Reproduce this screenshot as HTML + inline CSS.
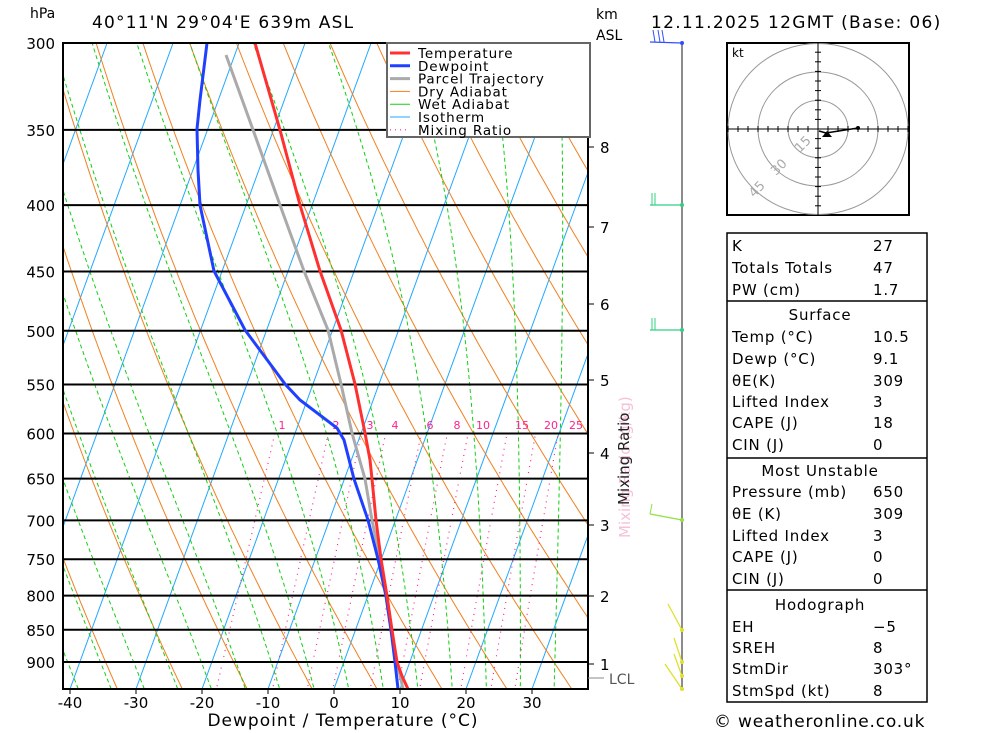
<!DOCTYPE html>
<html><head><meta charset="utf-8"><style>
body{margin:0;background:#fff;width:1000px;height:733px;overflow:hidden;font-family:"DejaVu Sans","Liberation Sans",sans-serif}
svg{display:block}
</style></head><body>
<svg id="s" width="1000" height="733" xmlns="http://www.w3.org/2000/svg" font-family="DejaVu Sans, Liberation Sans, sans-serif">
<defs><clipPath id="c"><rect x="63" y="43" width="525" height="646"/></clipPath></defs>
<g id="bg" clip-path="url(#c)"></g>
<g id="fg"></g>
</svg>
<script>
var NS="http://www.w3.org/2000/svg";
function el(t,a,p,txt){var e=document.createElementNS(NS,t);for(var k in a)e.setAttribute(k,a[k]);if(txt!==undefined)e.textContent=txt;(p||document.getElementById('fg')).appendChild(e);return e;}
var bg=document.getElementById('bg');
function Y(p){return 43+563.4*Math.log(p/300);}
function X(T,y){return 334+6.6*T+0.364*(689-y);}
function pl(pts,st,par){el('polyline',Object.assign({points:pts.map(function(q){return q[0].toFixed(1)+','+q[1].toFixed(1)}).join(' '),fill:'none'},st),par);}
var ps=[];for(var p=1000;p>=290;p-=5)ps.push(p);
for(var T=-120;T<=50;T+=10){pl([[X(T,689),689],[X(T,43),43]],{stroke:'#22a8ff','stroke-width':1},bg);}
for(var th=184.3;th<=500;th+=10){var pts=ps.map(function(p){var y=Y(p);return [X(th*Math.pow(p/1000,0.286)-273.15,y),y];});pl(pts,{stroke:'#f08020','stroke-width':1},bg);}
function es(Tc){return 6.112*Math.exp(17.67*Tc/(Tc+243.5));}
for(var T0=-45;T0<=40;T0+=5){var Tk=T0+273.15,pts=[];for(var p=1000;p>=290;p-=2){var y=Y(p);pts.push([X(Tk-273.15,y),y]);var e=es(Tk-273.15),rs=0.622*e/(p-e);var dT=(287*Tk+2.5e6*rs)/(1004+2.5e6*2.5e6*rs*0.622/(287*Tk*Tk))/p;Tk-=dT*2;}
pl(pts,{stroke:'#10d010','stroke-width':1,'stroke-dasharray':'4,3'},bg);}
var ws=[1,2,3,4,6,8,10,15,20,25];
ws.forEach(function(w){var pts=[];for(var p=1000;p>=600;p-=5){var e=w*p/(622+w),l=Math.log(e/6.112),Td=243.5*l/(17.67-l),y=Y(p);pts.push([X(Td,y),y]);}
pl(pts,{stroke:'#ff2090','stroke-width':1.2,'stroke-dasharray':'1,5'},bg);});
var lx=[282,336,370,395,430,457,483,522,551,576];
ws.forEach(function(w,i){el('text',{x:lx[i],y:429,'font-size':11,fill:'#ff2090','text-anchor':'middle'},bg,''+w);});
[300,350,400,450,500,550,600,650,700,750,800,850,900].forEach(function(p){var y=Y(p);el('line',{x1:63,x2:588,y1:y,y2:y,stroke:'#000','stroke-width':2},bg);el('text',{x:55,y:y+6,'font-size':15,'text-anchor':'end'},null,''+p);});
pl([[226,55],[252,127],[280,205],[304,271],[328,330],[341,384],[352,433],[365,479],[372,520],[380,559],[386,596],[391,630],[397,662],[403,689]],{stroke:'#aaa','stroke-width':3},bg);
pl([[207,43],[200,100],[197,129],[198,170],[200,205],[214,271],[245,330],[285,384],[300,400],[337,428],[344,440],[354,479],[368,520],[378,559],[386,596],[391,630],[395,662],[398,689]],{stroke:'#2040ff','stroke-width':3},bg);
pl([[255,43],[280,130],[300,205],[320,271],[341,330],[355,384],[365,433],[370,460],[372,479],[376,520],[381,559],[387,596],[392,630],[397,662],[402,676],[408,689]],{stroke:'#ff3030','stroke-width':3},bg);
el('rect',{x:63,y:43,width:525,height:646,fill:'none',stroke:'#000','stroke-width':2});
var lg=el('g',{});el('rect',{x:387,y:43,width:203,height:94,fill:'#fff',stroke:'#666','stroke-width':2},lg);
[['Temperature','#ff3030',3,''],['Dewpoint','#2040ff',3,''],['Parcel Trajectory','#aaa',3,''],['Dry Adiabat','#f08020',1,''],['Wet Adiabat','#10d010',1,''],['Isotherm','#22a8ff',1,''],['Mixing Ratio','#ff2090',1.2,'1,4']].forEach(function(r,i){var y=53+i*12.8;el('line',{x1:390,x2:410,y1:y,y2:y,stroke:r[1],'stroke-width':r[2],'stroke-dasharray':r[3]},lg);el('text',{x:418,y:y+5,'font-size':13.5,'letter-spacing':'0.9'},lg,r[0]);});
for(var T=-40;T<=30;T+=10){var x=334+6.6*T;el('line',{x1:x,x2:x,y1:689,y2:694,stroke:'#000'});el('text',{x:x,y:708,'font-size':15,'text-anchor':'middle'},null,''+T);}
el('text',{x:343,y:726,'font-size':17,'text-anchor':'middle','letter-spacing':'1'},null,'Dewpoint / Temperature (°C)');
el('text',{x:30,y:18,'font-size':14},null,'hPa');
el('text',{x:92,y:28,'font-size':17,'letter-spacing':'1.2'},null,"40°11'N  29°04'E  639m  ASL");
el('text',{x:651,y:28,'font-size':17,'letter-spacing':'1.3'},null,'12.11.2025  12GMT  (Base: 06)');
el('text',{x:596,y:19,'font-size':14},null,'km');el('text',{x:596,y:40,'font-size':14},null,'ASL');
[[8,147],[7,227],[6,304],[5,380],[4,453],[3,525],[2,596],[1,664]].forEach(function(k){el('line',{x1:588,x2:594,y1:k[1],y2:k[1],stroke:'#000'});el('text',{x:600,y:k[1]+6,'font-size':15},null,''+k[0]);});
el('line',{x1:588,x2:604,y1:678,y2:678,stroke:'#888'});el('text',{x:609,y:684,'font-size':14,fill:'#555'},null,'LCL');
el('text',{x:0,y:0,'font-size':15,fill:'#f6c0d8',transform:'translate(630,538) rotate(-90)'},null,'Mixing Ratio (g/kg)');
el('text',{x:0,y:0,'font-size':15,fill:'#222',transform:'translate(629,505) rotate(-90)'},null,'Mixing Ratio');
el('line',{x1:682,x2:682,y1:43,y2:689,stroke:'#666','stroke-width':1.5});
function barb(y,c,dx,dy){el('polyline',{points:(682+dx)+','+(y+dy)+' 682,'+y,fill:'none',stroke:c,'stroke-width':1.3});el('circle',{cx:682,cy:y,r:2,fill:c});}
barb(43,'#3050ff',-32,-1);[655,660,664].forEach(function(x){el('line',{x1:x,x2:x-2,y1:42,y2:30,stroke:'#3050ff'});});
barb(205,'#30d080',-32,0);el('line',{x1:652,x2:652,y1:205,y2:193,stroke:'#30d080'});el('line',{x1:655,x2:655,y1:205,y2:193,stroke:'#30d080'});
barb(330,'#30d080',-32,0);el('line',{x1:652,x2:652,y1:330,y2:318,stroke:'#30d080'});el('line',{x1:655,x2:655,y1:330,y2:318,stroke:'#30d080'});
barb(520,'#90e040',-32,-6);el('line',{x1:650,x2:652,y1:514,y2:504,stroke:'#90e040'});
[[630,-14,-26],[662,-8,-24],[676,-8,-22],[689,-17,-25]].forEach(function(b){barb(b[0],'#e0e030',b[1],b[2]);});
var hg=el('g',{});el('rect',{x:727,y:43,width:182,height:172,fill:'#fff',stroke:'#000','stroke-width':2},hg);
[30,60,90].forEach(function(r){el('ellipse',{cx:818,cy:129,rx:r,ry:r*0.95,fill:'none',stroke:'#999'},hg);});
el('line',{x1:727,x2:909,y1:129,y2:129,stroke:'#000'},hg);el('line',{x1:818,x2:818,y1:43,y2:215,stroke:'#000'},hg);
for(var i=-9;i<=9;i++){if(!i)continue;el('line',{x1:818+i*10,x2:818+i*10,y1:126,y2:132,stroke:'#000'},hg);el('line',{x1:815,x2:821,y1:129+i*9.6,y2:129+i*9.6,stroke:'#000'},hg);}
el('text',{x:732,y:57,'font-size':12},hg,'kt');
[['15',800,153],['30',776,176],['45',754,198]].forEach(function(t){el('text',{x:0,y:0,'font-size':13,fill:'#aaa',transform:'translate('+t[1]+','+t[2]+') rotate(-45)'},hg,t[0]);});
el('polyline',{points:'858,128 826,133 819,131',fill:'none',stroke:'#000','stroke-width':1.5},hg);el('circle',{cx:858,cy:128,r:2},hg);
el('polygon',{points:'822,137 832,137 827,131',fill:'#000'},hg);
var tb=el('g',{});el('rect',{x:727,y:233,width:200,height:469,fill:'#fff',stroke:'#000','stroke-width':1.5},tb);
[301,458,590].forEach(function(y){el('line',{x1:727,x2:927,y1:y,y2:y,stroke:'#000','stroke-width':1.5},tb);});
var rows=[['K','27',251],['Totals Totals','47',273],['PW (cm)','1.7',295],['Temp (°C)','10.5',342],['Dewp (°C)','9.1',364],['θE(K)','309',386],['Lifted Index','3',407],['CAPE (J)','18',428],['CIN (J)','0',450],['Pressure (mb)','650',497],['θE (K)','309',519],['Lifted Index','3',541],['CAPE (J)','0',562],['CIN (J)','0',584],['EH','−5',632],['SREH','8',653],['StmDir','303°',674],['StmSpd (kt)','8',696]];
rows.forEach(function(r){el('text',{x:732,y:r[2],'font-size':15,'letter-spacing':'0.8'},tb,r[0]);el('text',{x:873,y:r[2],'font-size':15,'letter-spacing':'0.8'},tb,r[1]);});
[['Surface',320],['Most Unstable',476],['Hodograph',610]].forEach(function(r){el('text',{x:820,y:r[1],'font-size':15,'text-anchor':'middle','letter-spacing':'0.8'},tb,r[0]);});
el('text',{x:714,y:727,'font-size':17,'letter-spacing':'0.8'},null,'© weatheronline.co.uk');
</script>
</body></html>
